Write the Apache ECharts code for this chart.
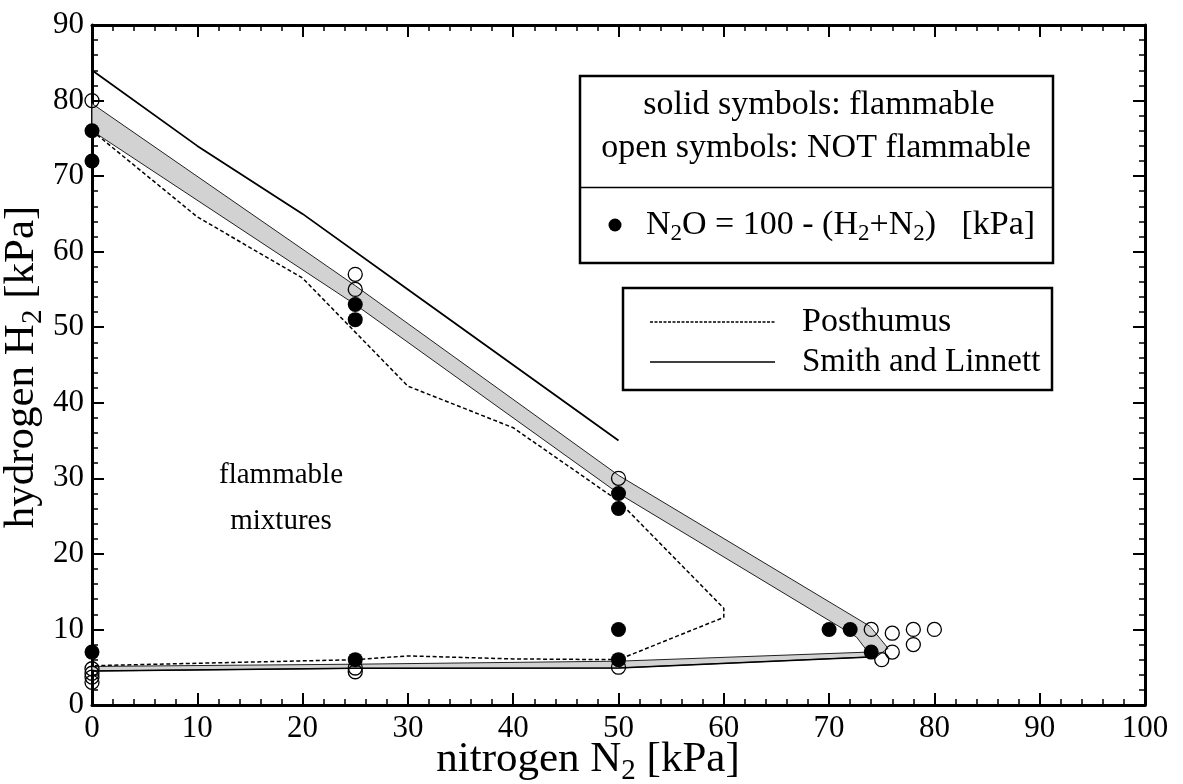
<!DOCTYPE html>
<html>
<head>
<meta charset="utf-8">
<script src="https://cdn.jsdelivr.net/npm/echarts@6/dist/echarts.min.js"></script>
<style>
  html, body { margin: 0; padding: 0; background: #fff; }
  #chart { width: 1183px; height: 784px; }
</style>
</head>
<body>
<div id="chart"></div>
<script>
// Flammability of H2 / N2 / N2O mixtures (partial pressures in kPa)

// Ignition observed (solid symbols)
const solidN2 = [0, 0, 0, 25, 25, 25, 50, 50, 50, 50, 70, 72, 74];
const solidH2 = [76, 72, 7, 53, 51, 6, 28, 26, 10, 6, 10, 10, 7];

// No ignition (open symbols)
const openN2 = [0, 0, 0, 0, 0, 25, 25, 25, 25, 50, 50, 74, 76, 78, 80, 78, 76, 75];
const openH2 = [80, 4.8, 4.2, 3.7, 3, 57, 55, 4.9, 4.4, 30, 5, 10, 9.5, 10, 10, 8, 7, 6];

// Posthumus limit curve
const postN2 = [0, 10, 20, 30, 40, 50, 60, 60, 50, 40, 30, 25, 0];
const postH2 = [76, 64.6, 56.5, 42.2, 36.7, 27, 12.8, 11.6, 6, 6.1, 6.5, 6, 5.2];

// Smith and Linnett limit (upper branch)
const smithN2 = [0, 10, 20, 30, 40, 50];
const smithH2 = [84, 74, 65, 55, 45, 35];

// Smith and Linnett limit (lower branch)
const smithLowN2 = [0, 25, 50, 74.5];
const smithLowH2 = [4.5, 4.85, 4.9, 6.4];

// Uncertainty band between flammable and non-flammable points (closed outline)
const bandN2 = [0, 25, 50, 73.9, 75.6, 74.5, 50, 25, 0, 0, 25, 50, 73.7, 72.6, 50, 25, 0];
const bandH2 = [79.6, 55.5, 30.4, 10.4, 7.5, 6.4, 4.9, 4.85, 4.5, 5.1, 5.4, 5.8, 7.0, 9.0, 28, 53, 76];

// Axis ticks
const xTicks = { min: 0, max: 100, step: 10 };
const yTicks = { min: 0, max: 90, step: 10 };

const FONT = '"Liberation Serif", "Times New Roman", serif';
const zip = (a, b) => a.map((v, i) => [v, b[i]]);

// Text with subscripts: parts are [string, isSubscript]
const measureCtx = document.createElement('canvas').getContext('2d');
function textWidth(str, size) {
  measureCtx.font = size + 'px ' + FONT;
  return measureCtx.measureText(str).width;
}
function subscriptText(x, y, parts, size, align, rotation) {
  const subSize = Math.round(size * 0.68);
  const widths = parts.map(p => textWidth(p[0], p[1] ? subSize : size));
  const total = widths.reduce((a, b) => a + b, 0);
  let cx = align === 'center' ? -total / 2 : 0;
  const children = parts.map((p, i) => {
    const el = {
      type: 'text',
      z: 12,
      x: cx,
      y: p[1] ? size * 0.27 : 0,
      style: {
        text: p[0],
        font: (p[1] ? subSize : size) + 'px ' + FONT,
        fill: '#000',
        align: 'left',
        verticalAlign: 'middle'
      }
    };
    cx += widths[i];
    return el;
  });
  return { type: 'group', x: x, y: y, rotation: rotation || 0, z: 12, children: children };
}

const chart = echarts.init(document.getElementById('chart'), null, { renderer: 'canvas' });

function axisCommon(showLabels) {
  return {
    type: 'value',
    axisLine: { show: true, onZero: false, lineStyle: { color: '#000', width: 3 } },
    axisTick: { show: true, inside: true, length: 12, lineStyle: { color: '#000', width: 2 } },
    minorTick: { show: true, splitNumber: 5, length: 6, lineStyle: { color: '#000', width: 1.5 } },
    splitLine: { show: false },
    axisLabel: { show: showLabels, color: '#000', fontFamily: FONT, fontSize: 31, margin: 8 }
  };
}

const grid = { left: 92, right: 38, top: 25, bottom: 79 };

const option = {
  animation: false,
  backgroundColor: '#fff',
  grid: grid,
  xAxis: [
    Object.assign(axisCommon(true), { position: 'bottom', min: xTicks.min, max: xTicks.max, interval: xTicks.step }),
    Object.assign(axisCommon(false), { position: 'top', min: xTicks.min, max: xTicks.max, interval: xTicks.step })
  ],
  yAxis: [
    Object.assign(axisCommon(true), { position: 'left', min: yTicks.min, max: yTicks.max, interval: yTicks.step }),
    Object.assign(axisCommon(false), { position: 'right', min: yTicks.min, max: yTicks.max, interval: yTicks.step })
  ],
  series: [
    {
      type: 'custom',
      name: 'band',
      silent: true,
      z: 1,
      data: [[0, 0]],
      renderItem: function (params, api) {
        const pts = bandN2.map((x, i) => api.coord([x, bandH2[i]]));
        return {
          type: 'polygon',
          shape: { points: pts },
          style: { fill: '#d2d2d2', stroke: '#222', lineWidth: 1 }
        };
      }
    },
    {
      type: 'line',
      name: 'Posthumus',
      data: zip(postN2, postH2),
      symbol: 'none',
      z: 3,
      lineStyle: { color: '#000', width: 1.5, type: [4, 2.5], opacity: 1 }
    },
    {
      type: 'line',
      name: 'Smith and Linnett',
      data: zip(smithN2, smithH2),
      symbol: 'none',
      z: 3,
      lineStyle: { color: '#000', width: 1.8, opacity: 1 }
    },
    {
      type: 'line',
      name: 'Smith and Linnett lower',
      data: zip(smithLowN2, smithLowH2),
      symbol: 'none',
      z: 3,
      lineStyle: { color: '#000', width: 1.5, opacity: 1 }
    },
    {
      type: 'scatter',
      name: 'not flammable',
      data: zip(openN2, openH2),
      symbol: 'circle',
      symbolSize: 14,
      z: 5,
      itemStyle: { color: 'rgba(255,255,255,0)', borderColor: '#000', borderWidth: 1.3, opacity: 1 }
    },
    {
      type: 'scatter',
      name: 'flammable',
      data: zip(solidN2, solidH2),
      symbol: 'circle',
      symbolSize: 15,
      z: 6,
      itemStyle: { color: '#000', opacity: 1 }
    }
  ],
  graphic: [
    // axis titles
    subscriptText(588, 760, [['nitrogen N', 0], ['2', 1], [' [kPa]', 0]], 43, 'center', 0),
    subscriptText(22, 367, [['hydrogen H', 0], ['2', 1], [' [kPa]', 0]], 43, 'center', Math.PI / 2),
    // region annotation
    {
      type: 'text', x: 281, y: 498, z: 10,
      style: { text: 'flammable\nmixtures', font: '29px ' + FONT, fill: '#000', align: 'center', verticalAlign: 'middle', lineHeight: 46 }
    },
    // symbol key
    {
      type: 'rect', z: 10,
      shape: { x: 580, y: 76, width: 473, height: 187 },
      style: { fill: '#fff', stroke: '#000', lineWidth: 2.5 }
    },
    {
      type: 'line', z: 11,
      shape: { x1: 580, y1: 187.5, x2: 1053, y2: 187.5 },
      style: { stroke: '#000', lineWidth: 1.5 }
    },
    {
      type: 'text', x: 819, y: 105, z: 11,
      style: { text: 'solid symbols: flammable', font: '34px ' + FONT, fill: '#000', align: 'center', verticalAlign: 'middle' }
    },
    {
      type: 'text', x: 816, y: 148, z: 11,
      style: { text: 'open symbols: NOT flammable', font: '34px ' + FONT, fill: '#000', align: 'center', verticalAlign: 'middle' }
    },
    {
      type: 'circle', z: 11,
      shape: { cx: 615, cy: 225, r: 6.5 },
      style: { fill: '#000' }
    },
    subscriptText(646, 225, [['N', 0], ['2', 1], ['O = 100 - (H', 0], ['2', 1], ['+N', 0], ['2', 1], [')   [kPa]', 0]], 34, 'left', 0),
    // line key
    {
      type: 'rect', z: 10,
      shape: { x: 623, y: 288, width: 429, height: 102 },
      style: { fill: '#fff', stroke: '#000', lineWidth: 2.5 }
    },
    {
      type: 'line', z: 11,
      shape: { x1: 650, y1: 322, x2: 775, y2: 322 },
      style: { stroke: '#000', lineWidth: 1.3, lineDash: [3, 1.5] }
    },
    {
      type: 'line', z: 11,
      shape: { x1: 650, y1: 362, x2: 775, y2: 362 },
      style: { stroke: '#000', lineWidth: 1.5 }
    },
    {
      type: 'text', x: 802, y: 322, z: 11,
      style: { text: 'Posthumus', font: '34px ' + FONT, fill: '#000', align: 'left', verticalAlign: 'middle' }
    },
    {
      type: 'text', x: 802, y: 362, z: 11,
      style: { text: 'Smith and Linnett', font: '33px ' + FONT, fill: '#000', align: 'left', verticalAlign: 'middle' }
    }
  ]
};

chart.setOption(option);
</script>
</body>
</html>
